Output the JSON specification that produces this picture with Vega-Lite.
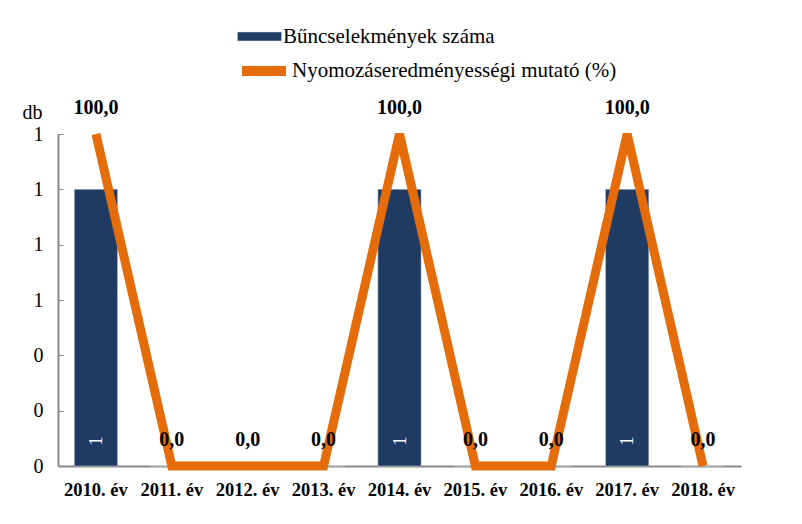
{
  "$schema": "https://vega.github.io/schema/vega-lite/v6.json",
  "width": 683,
  "height": 332,
  "autosize": "none",
  "padding": {"left": 58, "top": 134, "right": 61, "bottom": 58},
  "background": "white",
  "config": {
    "view": {"stroke": null},
    "font": "Liberation Serif",
    "locale": {"number": {"decimal": ",", "thousands": " ", "grouping": [3], "currency": ["", " Ft"]}}
  },
  "data": {
    "values": [
      {"year": "2010. év", "count": 1, "pct": 100},
      {"year": "2011. év", "count": 0, "pct": 0},
      {"year": "2012. év", "count": 0, "pct": 0},
      {"year": "2013. év", "count": 0, "pct": 0},
      {"year": "2014. év", "count": 1, "pct": 100},
      {"year": "2015. év", "count": 0, "pct": 0},
      {"year": "2016. év", "count": 0, "pct": 0},
      {"year": "2017. év", "count": 1, "pct": 100},
      {"year": "2018. év", "count": 0, "pct": 0}
    ]
  },
  "encoding": {
    "x": {
      "field": "year", "type": "nominal", "sort": null,
      "scale": {"paddingInner": 0.43, "paddingOuter": 0.215},
      "axis": {
        "title": null, "labelAngle": 0, "ticks": false,
        "labelFont": "Liberation Serif", "labelFontSize": 18.5, "labelFontWeight": "bold",
        "labelColor": "black", "labelPadding": 14,
        "domainColor": "#878787", "domainWidth": 2
      }
    }
  },
  "resolve": {"scale": {"y": "independent"}},
  "layer": [
    {
      "layer": [
        {
          "mark": {
            "type": "bar",
            "fill": "#1f3b63",
            "stroke": "#c9d3de", "strokeWidth": 0.5
          },
          "encoding": {
            "y": {
              "field": "count", "type": "quantitative",
              "scale": {"domain": [0, 1.2], "nice": false},
              "axis": {
                "title": "db", "titleAngle": 0, "titleFont": "Liberation Serif", "titleFontSize": 20,
                "titleFontWeight": "normal", "titleColor": "black",
                "titleAlign": "left", "titleBaseline": "alphabetic", "titleX": -36, "titleY": -16,
                "values": [0, 0.2, 0.4, 0.6, 0.8, 1.0, 1.2], "format": ".0f",
                "labelFont": "Liberation Serif", "labelFontSize": 20, "labelColor": "black",
                "labelPadding": 20, "tickSize": -5, "tickColor": "#878787",
                "domainColor": "#878787", "domainWidth": 2, "grid": false
              }
            },
            "fill": {
              "datum": "Bűncselekmények száma",
              "scale": {"range": ["#1f3b63"]},
              "legend": {
                "title": null, "orient": "none", "legendX": 179, "legendY": -120, "padding": 0,
                "symbolType": "M-1,-0.2H1V0.2H-1Z", "symbolSize": 1936, "symbolStrokeColor": "#c9d3de", "symbolStrokeWidth": 0.5,
                "labelFont": "Liberation Serif", "labelFontSize": 21, "labelColor": "black", "labelOffset": 1, "labelLimit": 500
              }
            }
          }
        },
        {
          "transform": [{"filter": "datum.count > 0"}],
          "mark": {"type": "text", "angle": 270, "color": "white", "fontSize": 19, "font": "Liberation Serif", "baseline": "middle", "align": "center"},
          "encoding": {
            "y": {"datum": 0.09, "type": "quantitative", "scale": {"domain": [0, 1.2], "nice": false}},
            "text": {"field": "count", "type": "quantitative", "format": ".0f"}
          }
        }
      ]
    },
    {
      "layer": [
        {
          "mark": {"type": "line", "strokeWidth": 9, "strokeJoin": "miter", "strokeCap": "butt", "color": "#e46c0a"},
          "encoding": {
            "y": {
              "field": "pct", "type": "quantitative",
              "scale": {"domain": [0, 100], "nice": false},
              "axis": {
                "orient": "right", "title": "%", "titleAngle": 0, "titleFont": "Liberation Serif", "titleFontSize": 20,
                "titleFontWeight": "normal", "titleColor": "black",
                "titleAlign": "left", "titleBaseline": "alphabetic", "titleX": 42, "titleY": -25,
                "values": [0, 10, 20, 30, 40, 50, 60, 70, 80, 90, 100],
                "labelFont": "Liberation Serif", "labelFontSize": 20, "labelColor": "black",
                "labelPadding": 12, "tickSize": 5, "tickColor": "#878787",
                "domainColor": "#878787", "domainWidth": 2, "grid": false
              }
            },
            "stroke": {
              "datum": "Nyomozáseredményességi mutató (%)",
              "scale": {"range": ["#e46c0a"]},
              "legend": {
                "title": null, "orient": "none", "legendX": 179, "legendY": -90, "padding": 0,
                "symbolType": "stroke", "symbolSize": 1936, "symbolStrokeWidth": 10,
                "labelFont": "Liberation Serif", "labelFontSize": 21, "labelColor": "black", "labelOffset": 1, "labelLimit": 500
              }
            }
          }
        },
        {
          "mark": {"type": "text", "fontSize": 20, "fontWeight": "bold", "font": "Liberation Serif", "color": "black", "dy": -26, "baseline": "middle"},
          "encoding": {
            "y": {"field": "pct", "type": "quantitative", "scale": {"domain": [0, 100], "nice": false}, "axis": null},
            "text": {"field": "pct", "type": "quantitative", "format": ".1f"}
          }
        }
      ]
    }
  ]
}
